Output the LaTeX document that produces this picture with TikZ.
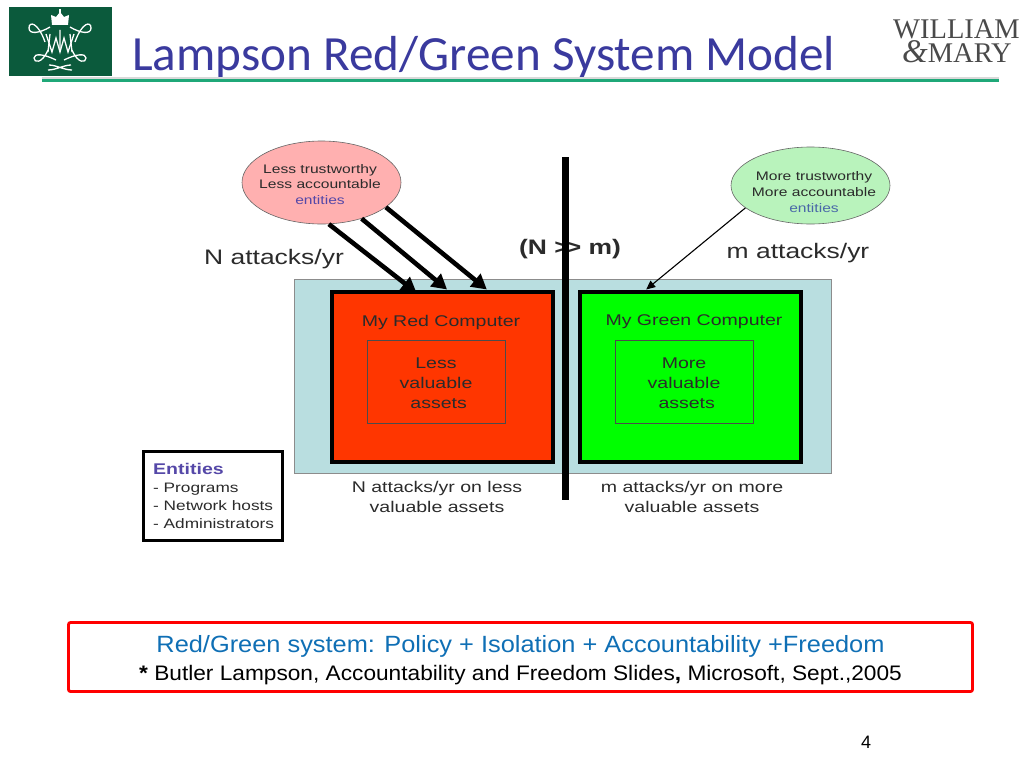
\documentclass[tikz,border=0pt]{standalone}
\usepackage{fontspec}
\setmainfont{Liberation Sans}
\newfontfamily\figfont[FakeStretch=1.26]{Liberation Sans}
\newfontfamily\capfont[FakeStretch=1.08]{Liberation Sans}
\newfontfamily\titlefont{Carlito}
\newfontfamily\logofont{Liberation Serif}
\usetikzlibrary{arrows.meta,shapes.geometric}
\definecolor{wmgreen}{HTML}{0B5A3C}
\definecolor{rulegreen}{HTML}{1FA878}
\definecolor{titleblue}{HTML}{3A3A9E}
\definecolor{captionblue}{HTML}{0F6FB5}
\definecolor{panelblue}{HTML}{B9DEE0}
\definecolor{pinkfill}{HTML}{FFB0B0}
\definecolor{mintfill}{HTML}{B9F3BC}
\definecolor{redfill}{HTML}{FF3600}
\definecolor{greenfill}{HTML}{00FF00}
\definecolor{textgray}{HTML}{2B2B2B}
\definecolor{entblue}{HTML}{5548A8}
\definecolor{entsteel}{HTML}{4A68A8}
\definecolor{logogray}{HTML}{4A4A4A}
\tikzset{
  compbox/.style={draw=black, line width=4pt, minimum width=221pt, minimum height=170pt, inner sep=0pt},
  assetbox/.style={draw=black!70, line width=0.6pt, minimum width=138pt, minimum height=83pt, inner sep=0pt, align=center, font=\figfont\fontsize{15.5}{20}\selectfont, text=textgray},
  trustcloud/.style={ellipse, draw=black!60, line width=0.6pt, minimum width=159pt, inner sep=0pt},
  cloudtext/.style={align=center, inner sep=0pt, font=\figfont\fontsize{12.4}{15.7}\selectfont, text=textgray},
  bodytext/.style={align=center, font=\figfont\fontsize{15.5}{20}\selectfont, text=textgray, inner sep=0pt},
  ratetext/.style={font=\figfont\fontsize{21}{25}\selectfont, text=textgray, inner sep=0pt},
  logoline/.style={draw=white, line width=1.3pt}
}
\begin{document}
\begin{tikzpicture}[x=1pt,y=-1pt]
\useasboundingbox (0,0) rectangle (1024,768);
% logo
\node[fill=wmgreen, minimum width=103pt, minimum height=69pt, inner sep=0pt] (crest) at (60.5,41.5) {};
\fill[white] (52,25) -- (51,15) -- (56,17) -- (60,12) -- (64,17) -- (69,15) -- (68,25) -- cycle;
\fill[white] (59,9) rectangle (61,13);
\draw[logoline] (45,42) .. controls (38,22) and (29,21) .. (29,28) .. controls (29,35) and (40,33) .. (50,27);
\draw[logoline] (75,42) .. controls (82,22) and (91,21) .. (91,28) .. controls (91,35) and (80,33) .. (70,27);
\draw[logoline] (46,34) -- (52,52) -- (56,38) -- (60,52) -- (64,38) -- (68,52) -- (74,34);
\draw[logoline] (50,34) -- (48,52) (60,30) -- (60,52) (70,34) -- (72,52);
\draw[logoline] (48,50) .. controls (42,64) and (34,63) .. (34,58) .. controls (34,53) and (44,54) .. (56,60);
\draw[logoline] (72,50) .. controls (78,64) and (86,63) .. (86,58) .. controls (86,53) and (76,54) .. (64,60);
\draw[logoline] (48,70) .. controls (56,70) and (64,65) .. (71,65) (49,65) .. controls (56,65) and (64,70) .. (72,70);
% title and rule
\node[font=\titlefont\fontsize{49.2}{55}\selectfont, text=titleblue, anchor=west, inner sep=0pt] (slidetitle) at (132,57) {Lampson Red/Green System Model};
\coordinate (rulel) at (42,80);
\coordinate (ruler) at (999,80);
\draw[black!15, line width=3pt] ([yshift=2pt]rulel) -- ([yshift=2pt]ruler);
\draw[rulegreen, line width=3pt] (rulel) -- (ruler);
\node[font=\logofont\fontsize{28.5}{24}\selectfont, text=logogray, anchor=east, align=right, inner sep=0pt] (wmlogo) at (1020,41) {WILLIAM\\{\fontsize{33}{24}\selectfont\textit{\&}}MARY\hspace*{8pt}};
% main figure
\node[fill=panelblue, draw=black!45, line width=0.8pt, minimum width=537pt, minimum height=194pt, inner sep=0pt] (panel) at (562.5,376) {};
\node[compbox, fill=redfill] (redbox) at (442.5,376.5) {};
\node[compbox, fill=greenfill] (greenbox) at (690.5,376.5) {};
\node[assetbox] (redasset) at (436,381.5) {\rule{0pt}{15pt}Less\\valuable\\\ assets};
\node[assetbox] (greenasset) at (684,381.5) {\rule{0pt}{15pt}More\\valuable\\\ assets};
\node[bodytext] (redname) at (441,322) {My Red Computer};
\node[bodytext] (greenname) at (694,322) {My Green Computer};
\node[trustcloud, fill=pinkfill, minimum height=83pt] (lesscloud) at (321.5,182.5) {};
\node[cloudtext] (lesstext) at (320,184.5) {Less trustworthy\\Less accountable\\\textcolor{entblue}{entities}};
\node[trustcloud, fill=mintfill, minimum height=77pt] (morecloud) at (810.5,185.5) {};
\node[cloudtext] (moretext) at (814,192) {More trustworthy\\More accountable\\\textcolor{entsteel}{entities}};
\node[ratetext] (nrate) at (274,259) {N attacks/yr};
\node[ratetext] (mrate) at (798,253) {m attacks/yr};
\node[font=\figfont\bfseries\fontsize{21}{25}\selectfont, text=textgray, inner sep=0pt] (compare) at (570,249) {(N >\kern-4pt> m)};
% divider on top of the comparison
\coordinate (divtop) at (565.5,157);
\coordinate (divbot) at (565.5,500);
\draw[black, line width=7pt] (divtop) -- (divbot);
% attack arrows
\foreach \s/\e/\o in {-80/109/-5pt, -42/87/0pt, -21/63/0pt}
    \draw[-{Triangle[length=15pt,width=16pt]}, line width=4.6pt, shorten >=\o] (lesscloud.\s) -- (redbox.\e);
\draw[-{Triangle[length=9pt,width=8pt]}, line width=1.1pt] (morecloud.199) -- (greenbox.117.5);
\node[bodytext] (redcount) at (437,497) {N attacks/yr on less\\valuable assets};
\node[bodytext] (greencount) at (692,497) {m attacks/yr on more\\valuable assets};
% legend
\node[draw=black, line width=3pt, fill=white, minimum width=139pt, minimum height=89pt, inner sep=0pt] (legend) at (212.5,495.5) {};
\node[anchor=west, align=left, inner sep=0pt, font=\figfont\fontsize{13.7}{18}\selectfont, text=textgray] (legendtext) at (153,496) {\textcolor{entblue}{\bfseries\fontsize{15.5}{18}\selectfont Entities}\\- Programs\\- Network hosts\\- Administrators};
% caption
\node[draw=red, line width=2.8pt, rounded corners=2pt, minimum width=904pt, minimum height=69pt, inner sep=0pt] (capbox) at (520.5,657) {};
\node[font=\capfont\fontsize{23.5}{27}\selectfont, text=captionblue, inner sep=0pt] (capmain) at (520.5,646.5) {Red/Green system: Policy + Isolation + Accountability +Freedom};
\node[font=\capfont\fontsize{21}{24}\selectfont, text=black, inner sep=0pt] (capcite) at (520.5,675) {\textbf{*} Butler Lampson, Accountability and Freedom Slides\textbf{,} Microsoft, Sept.,2005};
\node[font=\fontsize{18}{22}\selectfont, text=black, inner sep=0pt] (pagenum) at (866,742) {4};
\end{tikzpicture}
\end{document}
